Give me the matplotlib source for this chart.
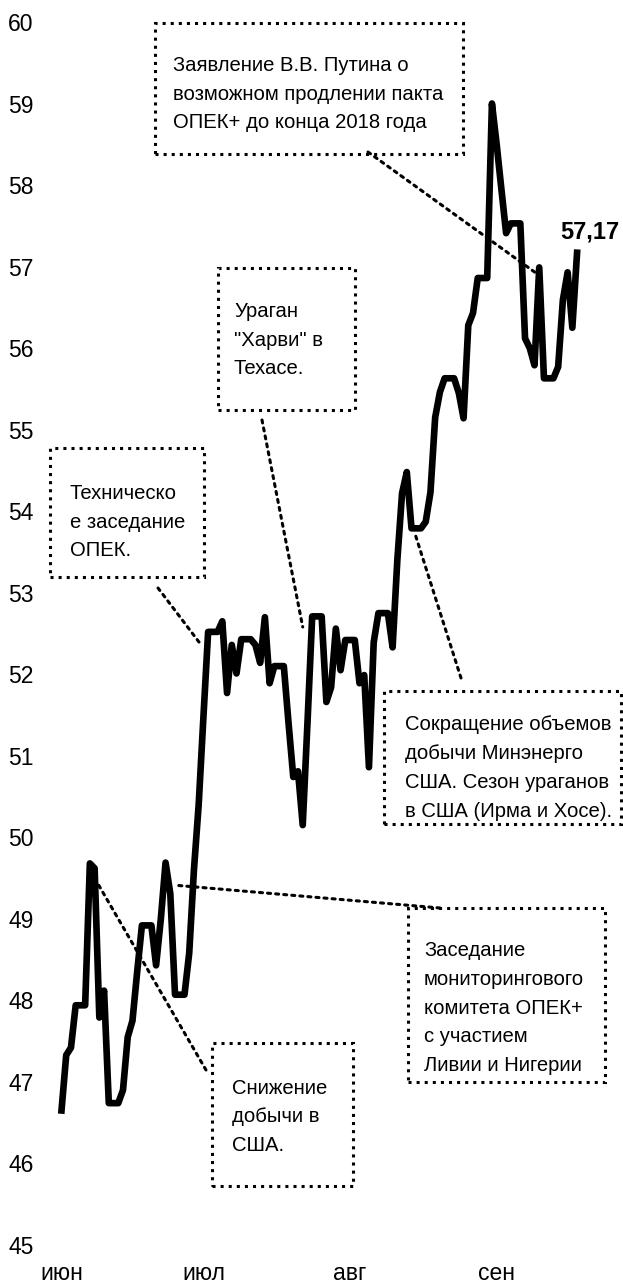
import numpy as np
import matplotlib
matplotlib.use('Agg')
from matplotlib import pyplot as plt
from matplotlib.patches import Rectangle

plt.rcParams['font.family'] = ['Liberation Sans', 'DejaVu Sans']

# цена, по дням начиная с 1 июня
price = [46.65, 47.33, 47.42, 47.94, 47.94, 47.94, 49.68, 49.62, 47.79, 48.12,
         46.74, 46.74, 46.74, 46.90, 47.55, 47.75, 48.35, 48.92, 48.92, 48.92,
         48.43, 49.00, 49.69, 49.31, 48.07, 48.07, 48.07, 48.58, 49.60, 50.40,
         51.47, 52.52, 52.52, 52.52, 52.65, 51.77, 52.36, 52.01, 52.43, 52.43,
         52.43, 52.36, 52.14, 52.70, 51.89, 52.10, 52.10, 52.10, 51.40, 50.74,
         50.81, 50.15, 51.40, 52.71, 52.71, 52.71, 51.66, 51.84, 52.56, 52.05,
         52.42, 52.42, 52.42, 51.89, 51.99, 50.86, 52.39, 52.75, 52.75, 52.75,
         52.33, 53.40, 54.22, 54.48, 53.79, 53.79, 53.79, 53.87, 54.23, 55.15,
         55.46, 55.63, 55.63, 55.63, 55.45, 55.14, 56.28, 56.43, 56.86, 56.86,
         56.86, 59.00, 58.50, 57.95, 57.41, 57.53, 57.53, 57.53, 56.12, 56.00,
         55.79, 56.99, 55.63, 55.63, 55.63, 55.77, 56.59, 56.93, 56.25, 57.17]
days = np.arange(len(price))

month_pos = [0, 30, 61, 92]
month_labels = ['июн', 'июл', 'авг', 'сен']
y_ticks = list(range(45, 61))

notes = [
    'Заявление В.В. Путина о\nвозможном продлении пакта\nОПЕК+ до конца 2018 года',
    'Ураган\n"Харви" в\nТехасе.',
    'Техническо\nе заседание\nОПЕК.',
    'Сокращение объемов\nдобычи Минэнерго\nСША. Сезон ураганов\nв США (Ирма и Хосе).',
    'Заседание\nмониторингового\nкомитета ОПЕК+\nс участием\nЛивии и Нигерии',
    'Снижение\nдобычи в\nСША.',
]
# точки на графике, к которым идут выноски (день, цена)
note_points = [(100.1, 56.93), (51.0, 52.58), (29.4, 52.37),
               (74.7, 53.73), (24.6, 49.41), (7.3, 49.47)]

W, H = 623, 1286
fig = plt.figure(figsize=(W / 100, H / 100), dpi=100)

def fx(x):
    return x / W

def fy(y):
    return 1 - y / H

ax = fig.add_axes([fx(61.5), fy(1245), (581.8 - 61.5) / W, (1245 - 22) / H])
ax.plot(days, price, color='black', lw=4.8, clip_on=False)
ax.set_xlim(0, 110)
ax.set_ylim(45, 60)
ax.set_yticks(y_ticks)
ax.set_xticks(month_pos)
ax.set_xticklabels(month_labels)
for s in ax.spines.values():
    s.set_visible(False)
ax.tick_params(axis='y', length=0, pad=20, labelsize=16.5)
ax.tick_params(axis='x', length=0, pad=12, labelsize=16.5)

ax.annotate(f'{price[-1]:.2f}'.replace('.', ','), xy=(days[-1], price[-1]),
            xytext=(13, 21), textcoords='offset pixels', ha='center', va='center',
            fontsize=17, fontweight='bold')

# рамки: x0, y0, x1, y1 (пиксели сверху), текст x, центр текста y, начало выноски
boxes = [
    (155, 23, 463, 154, 173, 94, (368, 152)),
    (218, 268, 355, 410, 234, 340, (262, 420)),
    (50, 448, 204, 577, 70, 522, (158, 588)),
    (384, 691, 621, 824, 405, 768, (461, 678)),
    (408, 908, 605, 1082, 424, 1008, (440, 908)),
    (212, 1043, 353, 1186, 232, 1117, (206, 1070)),
]
for (x0, y0, x1, y1, tx, ty, lead), txt, pt in zip(boxes, notes, note_points):
    fig.add_artist(Rectangle((fx(x0), fy(y1)), (x1 - x0) / W, (y1 - y0) / H,
                             transform=fig.transFigure, fill=False,
                             ls=':', lw=2.2, ec='black'))
    fig.text(fx(tx), fy(ty), txt, ha='left', va='center', fontsize=14.6,
             linespacing=1.65)
    ax.annotate('', xy=pt, xycoords='data',
                xytext=(lead[0], H - lead[1]), textcoords='figure pixels',
                arrowprops=dict(arrowstyle='-', ls=':', lw=2.2, color='black',
                                shrinkA=0, shrinkB=0))

fig.savefig('out.png', dpi=100)
